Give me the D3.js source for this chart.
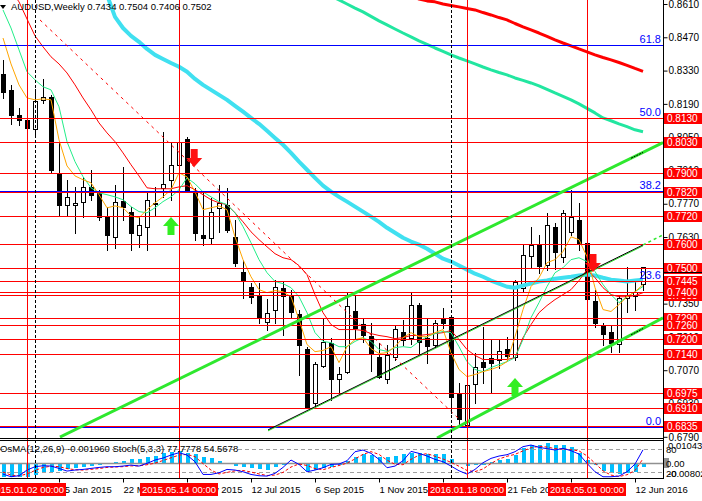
<!DOCTYPE html>
<html><head><meta charset="utf-8">
<script src="https://cdn.jsdelivr.net/npm/d3@7"></script>
<style>
html,body{margin:0;padding:0;background:#fff;}
svg{display:block;font-family:"Liberation Sans",Arial,sans-serif;}
</style></head><body>
<svg id="c" width="702" height="501"></svg>
<script>
// ---- DATA (weekly AUDUSD, bars indexed 0..80, week of 2014-12-07 .. 2016-06-19) ----
const openP = [
0.8316,0.8249,0.8144,0.8123,0.8085,0.8207,0.8219,0.7900,0.7765,0.7765,
0.7778,0.7841,0.7816,0.7719,0.7631,0.7782,0.7736,0.7640,0.7673,0.7770,
0.7837,0.7870,0.7934,0.8043,0.7820,0.7640,0.7627,0.7753,0.7765,0.7631,
0.7484,0.7421,0.7383,0.7274,0.7324,0.7417,0.7387,0.7308,0.7160,0.6933,
0.7089,0.7186,0.7034,0.7064,0.7320,0.7266,0.7215,0.7127,0.7034,0.7127,
0.7232,0.7207,0.7345,0.7207,0.7177,0.7291,0.7295,0.6976,0.6841,0.7013,
0.7106,0.7123,0.7114,0.7160,0.7127,0.7417,0.7551,0.7597,0.7513,0.7673,
0.7547,0.7652,0.7703,0.7606,0.7362,0.7257,0.7232,0.7181,0.7375,0.7380,
0.7434];
const highP = [
0.8375,0.8270,0.8173,0.8144,0.8253,0.8295,0.8228,0.8026,0.7870,0.7841,
0.7883,0.7912,0.7829,0.7757,0.7850,0.7925,0.7757,0.7715,0.7820,0.7841,
0.8072,0.8026,0.8039,0.8051,0.7837,0.7820,0.7795,0.7850,0.7837,0.7703,
0.7534,0.7438,0.7438,0.7371,0.7450,0.7442,0.7408,0.7324,0.7169,0.7106,
0.7286,0.7207,0.7085,0.7400,0.7387,0.7291,0.7270,0.7186,0.7177,0.7257,
0.7282,0.7396,0.7354,0.7291,0.7282,0.7333,0.7299,0.7018,0.7030,0.7144,
0.7253,0.7198,0.7198,0.7211,0.7450,0.7597,0.7673,0.7639,0.7732,0.7690,
0.7744,0.7829,0.7774,0.7610,0.7408,0.7270,0.7261,0.7387,0.7505,0.7450,
0.7504];
const lowP = [
0.8215,0.8106,0.8102,0.8085,0.8051,0.8194,0.7900,0.7724,0.7724,0.7648,
0.7715,0.7787,0.7702,0.7576,0.7585,0.7702,0.7576,0.7589,0.7576,0.7724,
0.7799,0.7787,0.7870,0.7820,0.7618,0.7597,0.7606,0.7652,0.7652,0.7509,
0.7375,0.7354,0.7270,0.7240,0.7270,0.7219,0.7291,0.7051,0.6913,0.6917,
0.7085,0.6946,0.6980,0.7060,0.7207,0.7190,0.7068,0.7039,0.7018,0.7114,
0.7177,0.7181,0.7144,0.7102,0.7169,0.7249,0.6891,0.6836,0.6830,0.6934,
0.7018,0.6976,0.7081,0.7114,0.7114,0.7404,0.7505,0.7480,0.7492,0.7497,
0.7526,0.7640,0.7576,0.7366,0.7253,0.7177,0.7148,0.7148,0.7316,0.7325,
0.7406];
const closeP = [
0.8240,0.8144,0.8123,0.8089,0.8202,0.8219,0.7913,0.7765,0.7799,0.7774,
0.7841,0.7808,0.7715,0.7640,0.7778,0.7757,0.7648,0.7681,0.7787,0.7774,
0.7854,0.7934,0.8030,0.7829,0.7648,0.7627,0.7736,0.7774,0.7660,0.7522,
0.7450,0.7379,0.7291,0.7312,0.7421,0.7383,0.7316,0.7177,0.6917,0.7097,
0.7190,0.7034,0.7055,0.7341,0.7249,0.7219,0.7144,0.7043,0.7135,0.7245,
0.7198,0.7345,0.7190,0.7173,0.7270,0.7270,0.6959,0.6866,0.7009,0.7085,
0.7085,0.7102,0.7152,0.7131,0.7442,0.7555,0.7597,0.7509,0.7681,0.7568,
0.7732,0.7715,0.7606,0.7371,0.7270,0.7224,0.7186,0.7375,0.7385,0.7400,
0.7502];

const maOrange = [
0.8467,0.8358,0.8270,0.8215,0.8207,0.8211,0.8207,0.8039,0.7929,0.7887,
0.7871,0.7858,0.7808,0.7753,0.7761,0.7753,0.7719,0.7711,0.7745,0.7774,
0.7799,0.7829,0.7900,0.7883,0.7820,0.7745,0.7753,0.7761,0.7745,0.7631,
0.7535,0.7463,0.7409,0.7396,0.7405,0.7400,0.7379,0.7283,0.7178,0.7148,
0.7153,0.7169,0.7102,0.7169,0.7199,0.7207,0.7161,0.7140,0.7144,0.7169,
0.7207,0.7228,0.7211,0.7211,0.7228,0.7241,0.7144,0.7073,0.7043,0.7052,
0.7064,0.7073,0.7085,0.7106,0.7211,0.7325,0.7422,0.7459,0.7522,0.7535,
0.7569,0.7631,0.7619,0.7547,0.7417,0.7325,0.7317,0.7346,0.7379,0.7400,
0.7430];
const maGreen = [
0.8585,0.8509,0.8417,0.8325,0.8291,0.8262,0.8249,0.8178,0.8031,0.7947,
0.7884,0.7837,0.7816,0.7808,0.7799,0.7787,0.7758,0.7737,0.7732,0.7753,
0.7779,0.7799,0.7829,0.7879,0.7854,0.7820,0.7799,0.7779,0.7766,0.7732,
0.7674,0.7606,0.7535,0.7480,0.7443,0.7434,0.7417,0.7379,0.7312,0.7228,
0.7191,0.7186,0.7169,0.7169,0.7191,0.7207,0.7191,0.7157,0.7149,0.7165,
0.7169,0.7165,0.7191,0.7211,0.7224,0.7233,0.7228,0.7169,0.7106,0.7073,
0.7064,0.7081,0.7094,0.7106,0.7123,0.7199,0.7291,0.7354,0.7422,0.7480,
0.7501,0.7535,0.7543,0.7527,0.7485,0.7430,0.7388,0.7354,0.7379,0.7400,
0.7422];
const maRed = [
0.8732,0.8669,0.8619,0.8547,0.8476,0.8430,0.8388,0.8358,0.8320,0.8270,
0.8215,0.8165,0.8110,0.8068,0.8031,0.7984,0.7934,0.7887,0.7837,0.7833,
0.7833,0.7833,0.7841,0.7846,0.7829,0.7808,0.7787,0.7774,0.7766,0.7732,
0.7694,0.7652,0.7619,0.7589,0.7560,0.7543,0.7535,0.7510,0.7472,0.7388,
0.7312,0.7262,0.7241,0.7241,0.7241,0.7237,0.7224,0.7216,0.7211,0.7203,
0.7207,0.7216,0.7216,0.7220,0.7224,0.7228,0.7237,0.7199,0.7157,0.7132,
0.7115,0.7115,0.7115,0.7115,0.7123,0.7207,0.7262,0.7312,0.7342,0.7367,
0.7388,0.7409,0.7447,0.7493,0.7459,0.7417,0.7388,0.7379,0.7379,0.7384,
0.7396];
const maCyan = [
null,null,null,null,null,null,null,null,null,null,
null,null,0.8753,0.8648,0.8556,0.8509,0.8476,0.8451,0.8421,0.8396,
0.8379,0.8362,0.8346,0.8325,0.8295,0.8270,0.8249,0.8228,0.8207,0.8182,
0.8157,0.8131,0.8106,0.8077,0.8047,0.8018,0.7984,0.7947,0.7913,0.7879,
0.7846,0.7821,0.7799,0.7779,0.7758,0.7737,0.7716,0.7694,0.7669,0.7648,
0.7627,0.7611,0.7598,0.7581,0.7560,0.7539,0.7527,0.7510,0.7493,0.7476,
0.7463,0.7447,0.7434,0.7421,0.7417,0.7426,0.7434,0.7443,0.7447,0.7455,
0.7459,0.7463,0.7468,0.7472,0.7468,0.7459,0.7451,0.7447,0.7443,0.7447,
0.7451];
const maRedLong = [
null,null,null,null,null,null,null,null,null,null,
null,null,null,null,null,null,null,null,null,null,
null,null,null,null,null,null,null,null,null,null,
null,null,null,null,null,null,null,null,null,null,
null,null,null,null,null,null,null,null,null,null,
null,0.8644,0.8631,0.8623,0.8619,0.8610,0.8604,0.8598,0.8591,0.8585,
0.8574,0.8564,0.8553,0.8543,0.8528,0.8514,0.8501,0.8488,0.8474,0.8459,
0.8446,0.8434,0.8421,0.8409,0.8396,0.8385,0.8375,0.8364,0.8352,0.8339,
0.8327];
const maMint = [
null,null,null,null,null,null,null,null,null,null,
null,null,null,null,null,null,null,null,null,null,
null,null,null,null,null,null,null,null,null,null,
null,null,null,null,null,null,null,null,null,null,
null,0.8644,0.8627,0.8610,0.8593,0.8577,0.8558,0.8539,0.8522,0.8505,
0.8488,0.8472,0.8455,0.8440,0.8425,0.8411,0.8396,0.8383,0.8371,0.8358,
0.8345,0.8333,0.8322,0.8312,0.8299,0.8289,0.8278,0.8266,0.8251,0.8236,
0.8222,0.8207,0.8190,0.8171,0.8152,0.8131,0.8119,0.8106,0.8094,0.8081,
0.8073];

const osma = [
-0.0065,-0.0065,-0.0065,-0.0065,-0.0057,-0.0045,-0.0040,-0.0036,-0.0029,-0.0024,
-0.0019,-0.0013,-0.0008,0.0003,0.0008,0.0013,0.0019,0.0019,0.0029,0.0036,
0.0049,0.0057,0.0062,0.0049,0.0045,0.0032,0.0024,0.0013,0.0003,-0.0013,
-0.0016,-0.0024,-0.0029,-0.0032,-0.0019,-0.0008,-0.0003,-0.0008,-0.0036,-0.0032,
-0.0024,-0.0016,-0.0008,0.0013,0.0029,0.0045,0.0040,0.0032,0.0032,0.0036,
0.0044,0.0049,0.0049,0.0045,0.0045,0.0045,0.0019,-0.0003,-0.0013,-0.0008,
-0.0006,0.0008,0.0016,0.0021,0.0040,0.0073,0.0089,0.0089,0.0100,0.0089,
0.0089,0.0081,0.0052,0.0016,-0.0008,-0.0036,-0.0049,-0.0052,-0.0049,-0.0040,
-0.00196];
const stochMain = [
14.6,7.7,10.3,25.1,33.8,36.4,35.5,29.4,22.5,25.1,
26.8,29.4,32.0,33.8,33.8,35.5,38.1,35.5,42.5,51.2,
56.4,64.2,70.3,64.2,46.8,13.7,13.7,18.1,26.8,25.1,
20.7,13.7,10.3,9.4,16.4,32.0,51.2,39.9,20.7,25.1,
31.2,39.9,40.7,49.4,72.9,77.3,68.6,52.9,31.2,35.5,
49.4,73.8,68.6,61.6,52.9,46.8,35.5,23.3,14.6,26.8,
44.2,55.5,61.6,65.1,72.9,86.0,90.3,84.2,80.8,77.3,
81.6,75.5,66.8,42.5,20.7,7.7,7.7,9.4,20.7,40.7,
77.78];
const stochSignal = [
20,12,10,15,24,32,35,34,29,26,
25,27,29,32,33,34,36,36,39,43,
50,57,64,66,60,42,25,15,19,23,
24,20,15,11,12,19,33,41,37,29,
26,32,37,43,54,66,73,66,51,40,
39,53,64,68,61,54,45,35,24,21,
28,42,54,61,66,75,83,87,85,81,
80,78,75,62,43,23,12,8,13,24,
54.57];

const priceTicks = [0.8610,0.8470,0.8330,0.8190,0.8050,0.7910,0.7770,0.7630,0.7490,0.7350,0.7210,0.7070,0.6930,0.6790];
// horizontal support/resistance levels, in drawing order
const levelsRed = [0.8130,0.8030,0.7900,0.7820,0.7720,0.7600,0.7500,0.7445,0.7385,0.7400,0.7290,0.7260,0.7200,0.7140,0.6975,0.6910,0.6835];
const fibLow = 0.6830, fibHigh = 0.9430;
const fibRatios = [0, 23.6, 38.2, 50.0, 61.8];
const dateTickIdx = [7,15,23,31,39,47,55,63,71,79];
const dateTickLabels = ["25 Jan 2015","22 Mar 2015","17 May 2015","12 Jul 2015","6 Sep 2015","1 Nov 2015","27 Dec 2015","21 Feb 2016","17 Apr 2016","12 Jun 2016"];
const vLineIdx = [3,22,58,73];
const vLineLabels = ["2015.01.02 00:00","2015.05.14 00:00","2016.01.18 00:00","2016.05.01 00:00"];
const sepIdx = [4,56];
// trend lines: [i1, p1, i2, p2]
const trendThick = [[7.125,0.6789,82.5,0.8027],[54.25,0.6785,82.5,0.7290]];
const trendThin = [33.125,0.6819,80,0.7597];
const trendThinExt = [80,0.7597,82.5,0.7639];
const trendDashed = [4.625,0.8543,57,0.6865];
const arrowsDown = [[23.9,0.7925],[73.75,0.7483]];
const arrowsUp = [[21,0.7714],[64,0.7037]];
const titleText = "AUDUSD,Weekly  0.7434 0.7504 0.7406 0.7502";
const oscText = "OsMA(12,26,9) -0.001960  Stoch(5,3,3) 77.7778 54.5678";

// ---- LAYOUT ----
const plotR = 663, mainB = 438, oscT = 440, oscB = 478;
const svg = d3.select("#c");
const x = d3.scaleLinear().domain([0,80]).range([3,643]);
const y = d3.scaleLinear().domain([0.6790,0.8610]).range([436.8,4]);
const yO = d3.scaleLinear().domain([-0.00802,0.010434]).range([479.8,441.8]);
const yS = d3.scaleLinear().domain([0,100]).range([479.7,441.3]);

const defs = svg.append("defs");
defs.append("clipPath").attr("id","cm").append("rect").attr("x",0).attr("y",0).attr("width",plotR).attr("height",mainB);
defs.append("clipPath").attr("id","co").append("rect").attr("x",0).attr("y",oscT+1).attr("width",plotR).attr("height",oscB-oscT-1);

const gm = svg.append("g").attr("clip-path","url(#cm)");
const go = svg.append("g").attr("clip-path","url(#co)");

// vertical lines (both panels)
const vg = svg.append("g");
vLineIdx.forEach(i=>{
  vg.append("line").attr("x1",Math.round(x(i))+0.5).attr("x2",Math.round(x(i))+0.5).attr("y1",0).attr("y2",oscB)
    .attr("stroke","#ff0000").attr("stroke-width",1);
});
sepIdx.forEach(i=>{
  vg.append("line").attr("x1",Math.round(x(i))+0.5).attr("x2",Math.round(x(i))+0.5).attr("y1",0).attr("y2",oscB)
    .attr("stroke","#000").attr("stroke-width",1).attr("stroke-dasharray","3,2");
});

// candles
const cg = gm.append("g").attr("shape-rendering","crispEdges");
d3.range(openP.length).forEach(i=>{
  const cx = Math.round(x(i));
  cg.append("line").attr("x1",cx+0.5).attr("x2",cx+0.5).attr("y1",Math.round(y(highP[i]))).attr("y2",Math.round(y(lowP[i]))+1)
    .attr("stroke","#000");
  const t = Math.round(y(Math.max(openP[i],closeP[i]))), b = Math.round(y(Math.min(openP[i],closeP[i])));
  const bull = closeP[i] >= openP[i];
  cg.append("rect").attr("x",cx-2+0.5).attr("y",t+0.5).attr("width",4).attr("height",Math.max(0,b-t))
    .attr("fill",bull?"#fff":"#000").attr("stroke","#000");
});

// moving averages
function maLine(arr,color,w){
  const ln = d3.line().defined(d=>d!=null).x((d,i)=>x(i)).y(d=>y(d));
  gm.append("path").datum(arr).attr("d",ln).attr("fill","none").attr("stroke",color).attr("stroke-width",w)
    .attr("stroke-linejoin","round");
}
maLine(maCyan,"#40e0f0",4);
maLine(maRedLong,"#ff0000",3);
maLine(maMint,"#22e6a0",3);
maLine(maRed,"#ff0000",1);
maLine(maGreen,"#22ee88",1);
maLine(maOrange,"#ffa500",1);

// horizontal levels: fibonacci first, red levels on top
const hg = gm.append("g").attr("shape-rendering","crispEdges");
fibRatios.forEach(r=>{
  const p = fibLow + (fibHigh-fibLow)*r/100;
  const yy = Math.round(y(p))+0.5;
  hg.append("line").attr("x1",0).attr("x2",plotR).attr("y1",yy).attr("y2",yy).attr("stroke","#0000ff");
  gm.append("text").attr("x",661).attr("y",yy-3).attr("text-anchor","end").attr("font-size",11)
    .attr("fill","#0000ff").text(r.toFixed(1));
});
levelsRed.forEach(p=>{
  const yy = Math.round(y(p))+0.5;
  hg.append("line").attr("x1",0).attr("x2",plotR).attr("y1",yy).attr("y2",yy).attr("stroke","#ff0000");
});

// trend lines
trendThick.forEach(t=>{
  gm.append("line").attr("x1",x(t[0])).attr("y1",y(t[1])).attr("x2",x(t[2])).attr("y2",y(t[3]))
    .attr("stroke","#2ee82e").attr("stroke-width",3);
  const f = (k)=> t[1] + (t[3]-t[1])*(k-t[0])/(t[2]-t[0]);
  gm.append("line").attr("x1",x(78.5)).attr("y1",y(f(78.5))).attr("x2",x(80)).attr("y2",y(f(80)))
    .attr("stroke","#000").attr("stroke-width",1).attr("stroke-dasharray","2,1");
});
gm.append("line").attr("x1",x(trendThin[0])).attr("y1",y(trendThin[1])+1).attr("x2",x(trendThin[2])).attr("y2",y(trendThin[3])+1)
  .attr("stroke","#2ee82e").attr("stroke-width",1);
gm.append("line").attr("x1",x(trendThin[0])).attr("y1",y(trendThin[1])).attr("x2",x(trendThin[2])).attr("y2",y(trendThin[3]))
  .attr("stroke","#000").attr("stroke-width",1);
gm.append("line").attr("x1",x(trendThinExt[0])).attr("y1",y(trendThinExt[1])).attr("x2",x(trendThinExt[2])).attr("y2",y(trendThinExt[3]))
  .attr("stroke","#2ee82e").attr("stroke-width",1.5).attr("stroke-dasharray","3,3");
gm.append("line").attr("x1",x(trendDashed[0])).attr("y1",y(trendDashed[1])).attr("x2",x(trendDashed[2])).attr("y2",y(trendDashed[3]))
  .attr("stroke","#ff0000").attr("stroke-width",1).attr("stroke-dasharray","3,4");

// arrows
arrowsDown.forEach(a=>{
  gm.append("path").attr("transform",`translate(${x(a[0])},${y(a[1])})`)
    .attr("d","M-3.5,-18 L3.5,-18 L3.5,-9 L8,-9 L0,0 L-8,-9 L-3.5,-9 Z").attr("fill","#ff1010");
});
arrowsUp.forEach(a=>{
  gm.append("path").attr("transform",`translate(${x(a[0])},${y(a[1])})`)
    .attr("d","M-3.5,18 L3.5,18 L3.5,9 L8,9 L0,0 L-8,9 L-3.5,9 Z").attr("fill","#33ee22");
});

// title
svg.append("path").attr("d","M0,5 L6,5 L3,9 Z").attr("fill","#000");
svg.append("text").attr("x",11).attr("y",10).attr("font-size",9.5).attr("fill","#000").text(titleText);

// ---- Oscillator panel ----
go.append("g").selectAll("rect").data(osma).join("rect")
  .attr("x",(d,i)=>Math.round(x(i))-1.5).attr("width",4)
  .attr("y",d=>Math.min(yO(d),yO(0))).attr("height",d=>Math.abs(yO(d)-yO(0)))
  .attr("fill","#00bfff").attr("shape-rendering","crispEdges");
go.append("line").attr("x1",0).attr("x2",plotR).attr("y1",Math.round(yO(0))+0.5).attr("y2",Math.round(yO(0))+0.5)
  .attr("stroke","#909090").attr("stroke-width",1.5);
[80,20].forEach(v=>{
  go.append("line").attr("x1",0).attr("x2",plotR).attr("y1",Math.round(yS(v))+0.5).attr("y2",Math.round(yS(v))+0.5)
    .attr("stroke","#a0a0a0").attr("stroke-dasharray","4,3");
});
const sl = d3.line().x((d,i)=>x(i)).y(d=>yS(d));
go.append("path").datum(stochSignal).attr("d",sl).attr("fill","none").attr("stroke","#ff0000").attr("stroke-dasharray","3,2");
go.append("path").datum(stochMain).attr("d",sl).attr("fill","none").attr("stroke","#0000ff");
svg.append("text").attr("x",0).attr("y",452).attr("font-size",9.5).attr("fill","#000").text(oscText);

// frame lines
const fg = svg.append("g").attr("shape-rendering","crispEdges").attr("stroke","#000");
fg.append("line").attr("x1",0).attr("x2",plotR).attr("y1",mainB+0.5).attr("y2",mainB+0.5);
fg.append("line").attr("x1",0).attr("x2",plotR).attr("y1",oscT+0.5).attr("y2",oscT+0.5);
fg.append("line").attr("x1",0).attr("x2",plotR+1).attr("y1",oscB+0.5).attr("y2",oscB+0.5);
fg.append("line").attr("x1",plotR+0.5).attr("x2",plotR+0.5).attr("y1",0).attr("y2",oscB+1);

// price axis
const ya = svg.append("g").attr("transform",`translate(${plotR+0.5},0)`)
  .call(d3.axisRight(y).tickValues(priceTicks).tickSize(4).tickPadding(1).tickFormat(d3.format(".4f")));
ya.select(".domain").remove();
ya.selectAll("text").attr("font-size",10).attr("font-family","Liberation Sans,Arial,sans-serif").attr("fill","#000");
ya.selectAll("line").attr("stroke","#000");

// level label boxes
const lg = svg.append("g");
levelsRed.forEach(p=>{
  const yy = y(p);
  lg.append("rect").attr("x",664).attr("y",Math.round(yy)-5).attr("width",38).attr("height",11).attr("fill","#ff0000");
  lg.append("text").attr("x",667).attr("y",Math.round(yy)+4).attr("font-size",10).attr("fill","#fff").text(p.toFixed(4));
});
svg.append("line").attr("x1",plotR).attr("x2",702).attr("y1",272.5).attr("y2",272.5).attr("stroke","#000");

// osc axis labels
svg.append("text").attr("x",668).attr("y",449).attr("font-size",9.5).attr("fill","#000").text("0.010434");
svg.append("text").attr("x",666).attr("y",453).attr("font-size",9.5).attr("fill","#000").text("80");
svg.append("rect").attr("x",664).attr("y",458).attr("width",5).attr("height",10).attr("fill","#909090");
svg.append("text").attr("x",666).attr("y",467).attr("font-size",9.5).attr("fill","#000").text("0.00");
svg.append("text").attr("x",666).attr("y",477).attr("font-size",9.5).attr("fill","#000").text("20");
svg.append("text").attr("x",668).attr("y",477).attr("font-size",9.5).attr("fill","#000").text("-0.00802");

// date axis
const xa = svg.append("g").attr("transform",`translate(0,${oscB+0.5})`)
  .call(d3.axisBottom(x).tickValues(dateTickIdx).tickSize(4).tickPadding(2).tickFormat((d,k)=>dateTickLabels[k]));
xa.select(".domain").remove();
xa.selectAll("text").attr("text-anchor","start").attr("font-size",9.5).attr("font-family","Liberation Sans,Arial,sans-serif").attr("fill","#000").attr("dy","0.9em");
xa.selectAll("line").attr("stroke","#000");

// vertical line date boxes
vLineIdx.forEach((i,k)=>{
  const cx = Math.round(x(i));
  svg.append("rect").attr("x",cx-39).attr("y",483).attr("width",78).attr("height",13).attr("fill","#ff0000");
  svg.append("text").attr("x",cx).attr("y",493).attr("text-anchor","middle").attr("font-size",9.5).attr("fill","#fff").text(vLineLabels[k]);
});
</script>
</body></html>
